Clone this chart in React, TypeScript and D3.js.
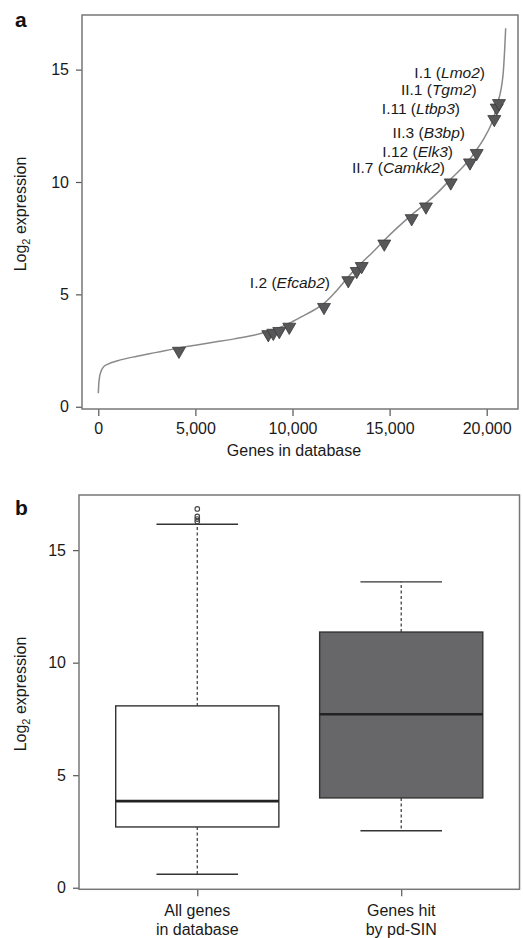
import { useEffect, useRef } from 'react';
import * as d3 from 'd3';

// panel a: sorted expression curve (rank in database, log2 expression)
const curveRanks = [0, 20, 60, 120, 250, 500, 1000, 2000, 3000, 4155, 5000, 6000, 7000, 8000, 8754, 9320, 9835, 10500, 11000, 11622, 12200, 12873, 13306, 13563, 14100, 14727, 15400, 16138, 16873, 17500, 18150, 18700, 19140, 19485, 19900, 20200, 20391, 20515, 20685, 20790, 20855, 20920, 20978];
const curveValues = [0.6, 0.95, 1.3, 1.52, 1.75, 1.9, 2.05, 2.25, 2.42, 2.62, 2.74, 2.88, 3.02, 3.18, 3.36, 3.52, 3.72, 4.02, 4.25, 4.6, 5.1, 5.78, 6.19, 6.41, 6.85, 7.41, 7.97, 8.54, 9.06, 9.55, 10.13, 10.6, 11.02, 11.44, 12.0, 12.5, 12.95, 13.4, 13.9, 14.4, 14.9, 15.8, 16.84];

// genes hit by pd-SIN
const hitRanks = [4155, 8754, 9011, 9320, 9835, 11622, 12873, 13306, 13563, 14727, 16138, 16873, 18150, 19140, 19485, 20391, 20515, 20633];
const hitValues = [2.48, 3.22, 3.28, 3.36, 3.55, 4.43, 5.62, 6.03, 6.25, 7.25, 8.38, 8.9, 9.97, 10.86, 11.28, 12.79, 13.3, 13.5];

// labelled hits: id, gene, label anchor (right end) in data units
const labelIds = ['I.1', 'II.1', 'I.11', 'II.3', 'I.12', 'II.7', 'I.2'];
const labelGenes = ['Lmo2', 'Tgm2', 'Ltbp3', 'B3bp', 'Elk3', 'Camkk2', 'Efcab2'];
const labelRanks = [19912, 19485, 18625, 18883, 18265, 17853, 11931];
const labelValues = [14.85, 14.09, 13.25, 12.18, 11.34, 10.63, 5.52];

const aXTicks = [0, 5000, 10000, 15000, 20000];
const yTicks = [0, 5, 10, 15];

// panel b: boxplot summary
const groupLines = [['All genes', 'in database'], ['Genes hit', 'by pd-SIN']];
const whiskerLow = [0.6, 2.53];
const q1 = [2.7, 3.99];
const median = [3.85, 7.71];
const q3 = [8.08, 11.36];
const whiskerHigh = [16.15, 13.59];
const outliersAll = [16.83, 16.5, 16.38, 16.27];

const FONT = '"Liberation Sans", Arial, Helvetica, sans-serif';
const boxFills = ['#ffffff', '#67676a'];
const TXT = 16;

const App = () => {
  const svgRef = useRef<SVGSVGElement>(null);

  useEffect(() => {
    const svg = d3.select(svgRef.current);
    svg.selectAll('*').remove();
    svg.attr('font-family', FONT);

    // ---------- panel a ----------
    const ax = d3.scaleLinear().domain([-839, 21612]).range([82, 518]);
    const ay = d3.scaleLinear().domain([-0.1, 17.43]).range([409, 15]);

    svg.append('text').attr('x', 15).attr('y', 27).attr('font-size', 21)
      .attr('font-weight', 'bold').attr('fill', '#111').text('a');

    const yAxisA = svg.append('g').attr('transform', `translate(82,0)`)
      .call(d3.axisLeft(ay).tickValues(yTicks).tickSize(6).tickPadding(7));
    const xAxisA = svg.append('g').attr('transform', `translate(0,409)`)
      .call(d3.axisBottom(ax).tickValues(aXTicks).tickSize(7).tickPadding(7).tickFormat(d3.format(',')));

    [yAxisA, xAxisA].forEach(g => {
      g.select('.domain').remove();
      g.selectAll('line').attr('stroke', '#555').attr('stroke-width', 1.2);
      g.selectAll('text').attr('font-size', TXT).attr('fill', '#1a1a1a').attr('font-family', FONT);
    });

    svg.append('rect').attr('x', 82).attr('y', 15).attr('width', 436).attr('height', 394)
      .attr('fill', 'none').attr('stroke', '#777').attr('stroke-width', 1.5);

    const line = d3.line<number>()
      .x((_, i) => ax(curveRanks[i]))
      .y(d => ay(d))
      .curve(d3.curveMonotoneX);
    svg.append('path').datum(curveValues).attr('d', line)
      .attr('fill', 'none').attr('stroke', '#8a8a8a').attr('stroke-width', 1.5);

    const r = 7.5;
    const tri = `M0,${r}L${r * 0.866},${-r / 2}L${-r * 0.866},${-r / 2}Z`;
    svg.append('g').selectAll('path').data(hitValues).join('path')
      .attr('d', tri)
      .attr('transform', (d, i) => `translate(${ax(hitRanks[i])},${ay(d)})`)
      .attr('fill', '#58585a').attr('stroke', '#3a3a3a').attr('stroke-width', 0.8);

    const labels = svg.append('g').attr('font-size', 15.5).attr('fill', '#1a1a1a');
    labelIds.forEach((id, i) => {
      const t = labels.append('text')
        .attr('x', ax(labelRanks[i])).attr('y', ay(labelValues[i]))
        .attr('dy', '0.35em').attr('text-anchor', 'end');
      t.append('tspan').text(`${id} (`);
      t.append('tspan').attr('font-style', 'italic').text(labelGenes[i]);
      t.append('tspan').text(')');
    });

    svg.append('text').attr('x', 294).attr('y', 456).attr('text-anchor', 'middle')
      .attr('font-size', TXT).attr('fill', '#1a1a1a').text('Genes in database');

    const yTitle = (cy: number) => {
      const t = svg.append('text').attr('transform', `translate(26,${cy}) rotate(-90)`)
        .attr('text-anchor', 'middle').attr('font-size', TXT).attr('fill', '#1a1a1a');
      t.append('tspan').text('Log');
      t.append('tspan').attr('font-size', 11).attr('dy', 4).text('2');
      t.append('tspan').attr('dy', -4).text(' expression');
    };
    yTitle(214);

    // ---------- panel b ----------
    const bx = d3.scaleLinear().domain([0.42, 2.58]).range([79, 519.5]);
    const by = d3.scaleLinear().domain([-0.07, 17.45]).range([889.3, 495]);

    svg.append('text').attr('x', 15).attr('y', 515).attr('font-size', 21)
      .attr('font-weight', 'bold').attr('fill', '#111').text('b');

    const yAxisB = svg.append('g').attr('transform', `translate(79,0)`)
      .call(d3.axisLeft(by).tickValues(yTicks).tickSize(6).tickPadding(7));
    const xAxisB = svg.append('g').attr('transform', `translate(0,889.3)`)
      .call(d3.axisBottom(bx).tickValues([1, 2]).tickSize(7).tickFormat(() => ''));
    [yAxisB, xAxisB].forEach(g => {
      g.select('.domain').remove();
      g.selectAll('line').attr('stroke', '#555').attr('stroke-width', 1.2);
      g.selectAll('text').attr('font-size', TXT).attr('fill', '#1a1a1a').attr('font-family', FONT);
    });

    svg.append('rect').attr('x', 79).attr('y', 495).attr('width', 440.5).attr('height', 394.3)
      .attr('fill', 'none').attr('stroke', '#777').attr('stroke-width', 1.5);

    const boxW = 0.8, capW = 0.4;
    groupLines.forEach((lines, i) => {
      const c = i + 1;
      const g = svg.append('g');
      // whiskers
      g.append('line').attr('x1', bx(c)).attr('x2', bx(c)).attr('y1', by(q3[i])).attr('y2', by(whiskerHigh[i]))
        .attr('stroke', '#444').attr('stroke-width', 1.3).attr('stroke-dasharray', '3,2.5');
      g.append('line').attr('x1', bx(c)).attr('x2', bx(c)).attr('y1', by(q1[i])).attr('y2', by(whiskerLow[i]))
        .attr('stroke', '#444').attr('stroke-width', 1.3).attr('stroke-dasharray', '3,2.5');
      [whiskerHigh[i], whiskerLow[i]].forEach(v => {
        g.append('line').attr('x1', bx(c - capW / 2)).attr('x2', bx(c + capW / 2))
          .attr('y1', by(v)).attr('y2', by(v)).attr('stroke', '#333').attr('stroke-width', 1.4);
      });
      g.append('rect').attr('x', bx(c - boxW / 2)).attr('width', bx(c + boxW / 2) - bx(c - boxW / 2))
        .attr('y', by(q3[i])).attr('height', by(q1[i]) - by(q3[i]))
        .attr('fill', boxFills[i]).attr('stroke', '#333').attr('stroke-width', 1.4);
      g.append('line').attr('x1', bx(c - boxW / 2)).attr('x2', bx(c + boxW / 2))
        .attr('y1', by(median[i])).attr('y2', by(median[i])).attr('stroke', '#222').attr('stroke-width', 2.6);
      lines.forEach((s, k) => {
        g.append('text').attr('x', bx(c)).attr('y', 910 + k * 19).attr('dy', '0.35em')
          .attr('text-anchor', 'middle').attr('font-size', TXT).attr('fill', '#1a1a1a').text(s);
      });
    });

    svg.append('g').selectAll('circle').data(outliersAll).join('circle')
      .attr('cx', bx(1)).attr('cy', d => by(d)).attr('r', 2.3)
      .attr('fill', 'none').attr('stroke', '#444').attr('stroke-width', 1.1);

    yTitle(694);
  }, []);

  return (
    <svg ref={svgRef} width={523} height={938} viewBox="0 0 523 938"
      style={{ position: 'absolute', left: 0, top: 0, background: '#fff' }} />
  );
};

export default App;
